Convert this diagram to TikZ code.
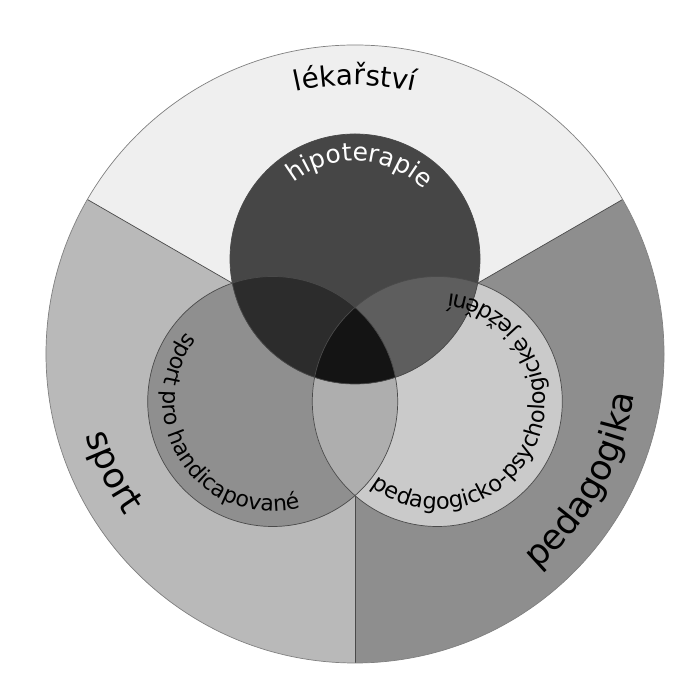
\documentclass[tikz,border=0pt]{standalone}
\usepackage{fontspec}
\setmainfont{DejaVu Sans}
\usepackage{tikz}
\usetikzlibrary{calc,decorations.text}
\definecolor{lekarstviSeda}{HTML}{EFEFEF}
\definecolor{sportSeda}{HTML}{B9B9B9}
\definecolor{pedagogikaSeda}{HTML}{8E8E8E}
\definecolor{hipoSeda}{HTML}{464646}
\definecolor{handiSeda}{HTML}{8F8F8F}
\definecolor{jezdeniSeda}{HTML}{CACACA}
\definecolor{hipoHandiSeda}{HTML}{2C2C2C}
\definecolor{hipoJezdeniSeda}{HTML}{5E5E5E}
\definecolor{handiJezdeniSeda}{HTML}{AEAEAE}
\definecolor{stredSeda}{HTML}{141414}
\definecolor{obrysSeda}{HTML}{4A4A4A}
\tikzset{
  obrys/.style={draw=obrysSeda,line width=0.7pt},
  oblouk/.style 2 args={decorate,decoration={text along path,text align=center,
    text={|\fontsize{#1}{#1}\selectfont|#2}}},
}

\begin{document}
\begin{tikzpicture}[x=1pt,y=1pt]
\useasboundingbox (0,0) rectangle (698,684);
\fill[white] (0,0) rectangle (698,684);
\coordinate (C) at (355,330);
\coordinate (T) at (355,425);
\coordinate (L) at (272.7,282.5);
\coordinate (R) at (437.3,282.5);
\fill[lekarstviSeda] (C) -- ($(C)+(30:309pt)$) arc[start angle=30,end angle=150,radius=309pt] -- cycle;
\fill[sportSeda] (C) -- ($(C)+(150:309pt)$) arc[start angle=150,end angle=270,radius=309pt] -- cycle;
\fill[pedagogikaSeda] (C) -- ($(C)+(270:309pt)$) arc[start angle=270,end angle=390,radius=309pt] -- cycle;
\foreach \u in {30,150,270}
  \draw[obrys] (C) -- ($(C)+(\u:309pt)$);
\draw[obrys,draw=gray] (C) circle[radius=309pt];
\fill[handiSeda] (L) circle[radius=125pt];
\fill[jezdeniSeda] (R) circle[radius=125pt];
\fill[hipoSeda] (T) circle[radius=125pt];
\begin{scope}
  \clip (L) circle[radius=125pt];
  \fill[handiJezdeniSeda] (R) circle[radius=125pt];
\end{scope}
\begin{scope}
  \clip (T) circle[radius=125pt];
  \fill[hipoHandiSeda] (L) circle[radius=125pt];
  \fill[hipoJezdeniSeda] (R) circle[radius=125pt];
  \clip (L) circle[radius=125pt];
  \fill[stredSeda] (R) circle[radius=125pt];
\end{scope}
\foreach \k in {T,L,R}
  \draw[obrys] (\k) circle[radius=125pt];
\path[oblouk={28}{lékařství}] ($(C)+(140:269pt)$) arc[start angle=140,end angle=40,radius=269pt];
\path[oblouk={35}{sport}] ($(C)+(160:281pt)$) arc[start angle=160,end angle=252,radius=281pt];
\path[oblouk={35}{pedagogika}] ($(C)+(285:282pt)$) arc[start angle=285,end angle=377,radius=282pt];
\path[oblouk={25}{hipoterapie},decoration={text color=white}] ($(T)+(147:98pt)$) arc[start angle=147,end angle=27,radius=98pt];
\path[oblouk={22}{sport pro handicapované}] ($(L)+(123:110pt)$) arc[start angle=123,end angle=303,radius=110pt];
\path[oblouk={22.5}{pedagogicko-psychologické ježdění}] ($(R)+(218:108pt)$) arc[start angle=218,end angle=458,radius=108pt];
\end{tikzpicture}
\end{document}
